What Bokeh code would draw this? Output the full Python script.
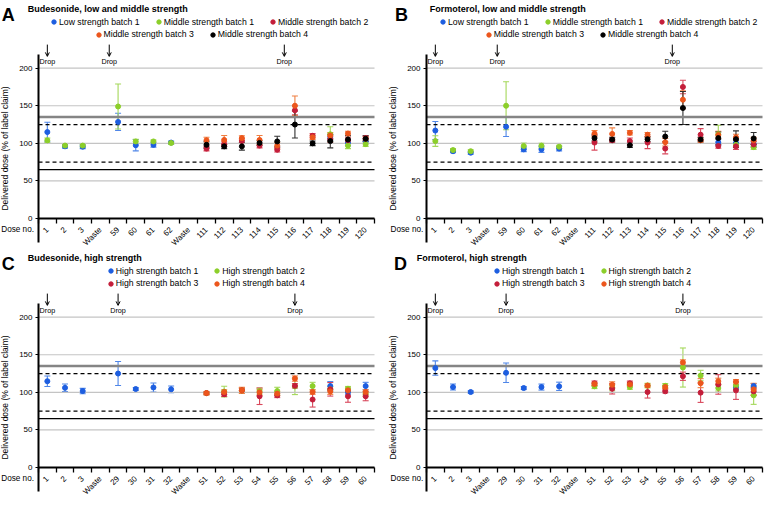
import math
from bokeh.plotting import figure
from bokeh.models import (ColumnDataSource, Whisker, TeeHead, Label, Arrow, OpenHead,
                          Legend, LegendItem, FixedTicker)
from bokeh.layouts import column, row
from bokeh.embed import file_html
from bokeh.resources import INLINE

N = None

# ---------------- categories ----------------
CATS_LM = ["1", "2", "3", "Waste", "59", "60", "61", "62", "Waste",
           "111", "112", "113", "114", "115", "116", "117", "118", "119", "120"]
CATS_H = ["1", "2", "3", "Waste", "29", "30", "31", "32", "Waste",
          "51", "52", "53", "54", "55", "56", "57", "58", "59", "60"]

# ---------------- Panel A: Budesonide, low and middle strength ----------------
A_LOW1 = [115, 96, 95.5, N, 128.5, 97.5, 98, 101, N, N, N, N, N, N, N, N, 107, 101, 103]
A_LOW1_E = [13, 2.5, 2.5, N, 11.5, 7.5, 3, 2, N, N, N, N, N, N, N, N, 4, 4, 3]
A_MID1 = [104, 97, 97, N, 149, 102.5, 102.5, 100.5, N, N, N, N, N, N, N, N, 112, 97, 99]
A_MID1_E = [3, 2, 2, N, 30, 3, 2, 2, N, N, N, N, N, N, N, N, 10, 4, 3]
A_MID2 = [N, N, N, N, N, N, N, N, N, 93, 99, 103, 97, 91.5, 144, 110, 105, 104, 107]
A_MID2_E = [N, N, N, N, N, N, N, N, N, 3, 3, 3, 3, 3, 6, 3, 4, 4, 3]
A_MID3 = [N, N, N, N, N, N, N, N, N, 104, 104.5, 107, 104.5, 97, 150, 108, 110.5, 113, 106]
A_MID3_E = [N, N, N, N, N, N, N, N, N, 4, 6, 3, 6, 4, 13, 3, 4, 3, 3]
A_MID4 = [N, N, N, N, N, N, N, N, N, 98, 96, 96, 100.5, 102.5, 125, 100, 103, 105, 106]
A_MID4_E = [N, N, N, N, N, N, N, N, N, 4, 3, 5, 3, 7, 18, 3, 9, 5, 4]

# ---------------- Panel B: Formoterol, low and middle strength ----------------
B_LOW1 = [117, 89.5, 87.5, N, 122, 92, 92, 93, N, N, N, N, N, N, N, N, 101.5, 100.5, 99]
B_LOW1_E = [12, 2, 2, N, 13, 3, 4, 3, N, N, N, N, N, N, N, N, 4, 4, 3]
B_MID1 = [103, 91, 89.5, N, 150, 96.5, 97, 95.5, N, N, N, N, N, N, N, N, 112, 98, 95]
B_MID1_E = [7, 2, 2, N, 32, 4, 3, 2, N, N, N, N, N, N, N, N, 12, 3, 3]
B_MID2 = [N, N, N, N, N, N, N, N, N, 101, 104, 103, 101, 93, 175, 111.5, 96.5, 96, 98.5]
B_MID2_E = [N, N, N, N, N, N, N, N, N, 10, 3, 4, 8, 7, 9, 8, 3, 4, 4]
B_MID3 = [N, N, N, N, N, N, N, N, N, 113, 112.5, 114, 111.5, 101.5, 158, 104, 111, 108, 104]
B_MID3_E = [N, N, N, N, N, N, N, N, N, 4, 8, 3, 3, 5, 12, 3, 5, 4, 4]
B_MID4 = [N, N, N, N, N, N, N, N, N, 107, 105, 97.5, 105.5, 109, 147, 105, 107, 105.5, 106.5]
B_MID4_E = [N, N, N, N, N, N, N, N, N, 4, 3, 3, 3, 7, 22, 3, 8, 11, 8]

# ---------------- Panel C: Budesonide, high strength ----------------
C_B1 = [114.8, 106, 101.7, N, 125, 104.4, 106.5, 104, N, N, N, N, N, N, N, N, 108.3, 100.4, 108.3]
C_B1_E = [7, 5, 3.5, N, 16, 2, 6, 4.5, N, N, N, N, N, N, N, N, 6, 3, 5]
C_B2 = [N, N, N, N, N, N, N, N, N, 99, 101, 102.5, 101.7, 101.7, 108, 108.3, 104, 104.8, 98]
C_B2_E = [N, N, N, N, N, N, N, N, N, 2, 7, 3, 4, 5, 11, 5, 4, 3, 3]
C_B3 = [N, N, N, N, N, N, N, N, N, 99, 97.4, 102.6, 94.8, 96, 108.7, 90.4, 104, 94.8, 94.8]
C_B3_E = [N, N, N, N, N, N, N, N, N, 2, 3, 3, 11, 3, 3, 10, 9, 8, 6]
C_B4 = [N, N, N, N, N, N, N, N, N, 99, 100.4, 102.6, 100, 98.3, 118.3, 100.4, 101.3, 102.6, 100.4]
C_B4_E = [N, N, N, N, N, N, N, N, N, 2, 3, 4, 4, 3, 3.5, 3, 4, 3, 3]

# ---------------- Panel D: Formoterol, high strength ----------------
D_B1 = [132.3, 107, 100.4, N, 126, 105.7, 107, 108, N, N, N, N, N, N, N, N, N, 107, 108.5]
D_B1_E = [9.5, 4, 1.5, N, 13, 2, 4, 5.5, N, N, N, N, N, N, N, N, N, 3, 3]
D_B2 = [N, N, N, N, N, N, N, N, N, 108, 106, 107, 109, 108.7, 133, 122.3, 105.7, 109, 96]
D_B2_E = [N, N, N, N, N, N, N, N, N, 3, 4, 3, 3, 3, 26, 7, 4, 4, 12]
D_B3 = [N, N, N, N, N, N, N, N, N, 112, 104.8, 112, 100.4, 101.3, 121.4, 99.6, 110.5, 102.6, 101.3]
D_B3_E = [N, N, N, N, N, N, N, N, N, 3, 7, 3, 8, 2, 5.5, 13, 13, 12, 5]
D_B4 = [N, N, N, N, N, N, N, N, N, 111, 110, 110.5, 109, 107, 139.7, 112.2, 114.8, 114, 104]
D_B4_E = [N, N, N, N, N, N, N, N, N, 2, 4, 3, 2, 2, 3.5, 6, 4, 3, 8]

NAMES_LM = ["Low strength batch 1", "Middle strength batch 1", "Middle strength batch 2",
            "Middle strength batch 3", "Middle strength batch 4"]
NAMES_H = ["High strength batch 1", "High strength batch 2",
           "High strength batch 3", "High strength batch 4"]

# reference limits (% of label claim) and grid values
LIM_OUTER_HI = 135
LIM_INNER_HI = 125
LIM_INNER_LO = 75
LIM_OUTER_LO = 65
GRID_Y = [50, 100, 150, 200]
Y_TICKS = [0, 50, 100, 150, 200]

# ---------------- styling / layout ----------------
FONT = "Liberation Sans"
BLUE, BLUE_L = "#1d5ee0", "#4f86e8"
GREEN, GREEN_L = "#8ccf2a", "#a4d85a"
RED, RED_L = "#c41e3a", "#d9485c"
ORANGE, ORANGE_L = "#ec561c", "#f07e40"
BLACK, BLACK_L = "#000000", "#303030"

W, H = 382, 249
FRAME_W = 336          # width covered by the categories
ZERO_Y = 218           # figure pixel row of value 0
Y_TOP = 290.0          # value at top figure edge
PX_PER_Y = ZERO_Y / Y_TOP


def ydata(fig_y):
    """figure pixel (from top) -> data y"""
    return (ZERO_Y - fig_y) / PX_PER_Y


def series_source(vals, errs):
    xs, ys, lo, hi = [], [], [], []
    for i, (v, e) in enumerate(zip(vals, errs)):
        if v is None:
            continue
        xs.append(i + 1)
        ys.append(v)
        lo.append(v - e)
        hi.append(v + e)
    return ColumnDataSource(dict(x=xs, y=ys, lower=lo, upper=hi))


def make_panel(letter, title, cats, series, names, legend_rows, drops,
               border_left, letter_px, title_px, legend_px, doseno_px):
    n = len(cats)
    px_per_x = FRAME_W / n
    x0 = 0.5 - border_left / px_per_x
    x1 = 0.5 + (W - border_left) / px_per_x
    p = figure(width=W, height=H, x_range=(x0, x1), y_range=(ydata(H), Y_TOP),
               output_backend="svg", toolbar_location=None,
               min_border_left=0, min_border_right=0, min_border_top=0, min_border_bottom=0)
    p.outline_line_color = None
    p.background_fill_color = None
    p.border_fill_color = "white"
    p.xgrid.visible = False
    p.ygrid.visible = False

    def xdata(rel_px):
        return 0.5 + rel_px / px_per_x

    xl, xr = 0.5, n + 0.5

    # grid lines
    p.segment(x0=[xl] * len(GRID_Y), y0=GRID_Y, x1=[xr] * len(GRID_Y), y1=GRID_Y,
              line_color="#c4c4c4", line_width=1.1)
    # reference limits
    p.segment(x0=[xl], y0=[LIM_OUTER_HI], x1=[xr], y1=[LIM_OUTER_HI], line_color="#858585", line_width=2.4)
    p.segment(x0=[xl, xl], y0=[LIM_INNER_HI, LIM_INNER_LO], x1=[xr, xr], y1=[LIM_INNER_HI, LIM_INNER_LO],
              line_color="black", line_width=1.3, line_dash="4 3")
    p.segment(x0=[xl], y0=[LIM_OUTER_LO], x1=[xr], y1=[LIM_OUTER_LO], line_color="black", line_width=1.4)

    # y axis (fixed at left boundary of first category)
    ya = p.yaxis[0]
    ya.fixed_location = 0.5
    ya.ticker = FixedTicker(ticks=Y_TICKS)
    ya.bounds = (ydata(241.5), ydata(53.9))
    ya.axis_line_width = 2
    ya.axis_line_color = "black"
    ya.major_tick_out = 3
    ya.major_tick_in = 0
    ya.minor_tick_out = 0
    ya.minor_tick_in = 0
    ya.major_tick_line_width = 1.2
    ya.major_label_text_font = FONT
    ya.major_label_text_font_size = "8px"
    ya.major_label_text_color = "black"
    ya.major_label_standoff = 3
    ya.axis_label = "Delivered dose (% of label claim)"
    ya.axis_label_text_font = FONT
    ya.axis_label_text_font_size = "8.5px"
    ya.axis_label_text_font_style = "normal"
    ya.axis_label_text_color = "black"
    ya.axis_label_standoff = 6

    # x axis (fixed at value 0)
    xa = p.xaxis[0]
    xa.fixed_location = 0
    xa.bounds = (xl, xr)
    xa.ticker = FixedTicker(ticks=list(range(1, n + 1)),
                            minor_ticks=[i + 0.5 for i in range(n + 1)])
    xa.major_label_overrides = {i + 1: c for i, c in enumerate(cats)}
    xa.major_label_orientation = math.pi / 4
    xa.major_tick_out = 0
    xa.major_tick_in = 0
    xa.minor_tick_out = 5
    xa.minor_tick_in = 0
    xa.minor_tick_line_width = 1.3
    xa.minor_tick_line_color = "black"
    xa.axis_line_width = 2
    xa.axis_line_color = "black"
    xa.major_label_text_font = FONT
    xa.major_label_text_font_size = "8px"
    xa.major_label_text_color = "black"
    xa.major_label_standoff = 5

    # data series
    renderers = []
    for (vals, errs, col, col_l) in series:
        src = series_source(vals, errs)
        p.add_layout(Whisker(source=src, base="x", upper="upper", lower="lower", dimension="height",
                             line_color=col_l, line_width=1.1,
                             upper_head=TeeHead(size=6, line_color=col_l, line_width=1.1),
                             lower_head=TeeHead(size=6, line_color=col_l, line_width=1.1)))
        r = p.scatter("x", "y", source=src, marker="circle", size=5,
                      fill_color=col, line_color=col)
        renderers.append(r)

    # legend rows
    for (idxs, (lx, row_y)) in zip(legend_rows, legend_px):
        items = [LegendItem(label=names[i], renderers=[renderers[i]]) for i in idxs]
        leg = Legend(items=items, location=(border_left + lx, H - row_y - 5.5),
                     orientation="horizontal",
                     background_fill_alpha=0, border_line_color=None, padding=0, margin=0,
                     spacing=13, glyph_width=11, glyph_height=11, label_standoff=0,
                     label_height=11, label_width=10,
                     label_text_font=FONT, label_text_font_size="8.7px", label_text_color="black")
        p.add_layout(leg)

    # drop arrows
    for xd in drops:
        p.add_layout(Arrow(end=OpenHead(size=4, line_width=1, line_color="black"),
                           x_start=xd, y_start=ydata(44.1), x_end=xd, y_end=ydata(55.9),
                           line_width=1, line_color="black"))
        p.add_layout(Label(x=xd, y=ydata(60.8), text="Drop", text_align="center",
                           text_baseline="middle", text_font=FONT, text_font_size="7.2px",
                           text_color="black"))

    # panel letter and title
    p.add_layout(Label(x=xdata(letter_px), y=ydata(14.7), text=letter, text_font=FONT,
                       text_font_size="18px", text_font_style="bold", text_color="black",
                       text_baseline="alphabetic", text_align="left"))
    p.add_layout(Label(x=xdata(title_px), y=ydata(8.0), text=title, text_font=FONT,
                       text_font_size="9px", text_font_style="bold", text_color="black",
                       text_baseline="alphabetic", text_align="left"))
    # dose no. label
    p.add_layout(Label(x=xdata(doseno_px), y=ydata(228.6), text="Dose no.", text_font=FONT,
                       text_font_size="8.2px", text_color="black", text_align="right",
                       text_baseline="middle"))
    return p


LEG_ROWS_Y = (21.6, 34.3)

pa = make_panel("A", "Budesonide, low and middle strength", CATS_LM,
                [(A_LOW1, A_LOW1_E, BLUE, BLUE_L), (A_MID1, A_MID1_E, GREEN, GREEN_L),
                 (A_MID2, A_MID2_E, RED, RED_L), (A_MID3, A_MID3_E, ORANGE, ORANGE_L),
                 (A_MID4, A_MID4_E, BLACK, BLACK_L)],
                NAMES_LM, [[0, 1, 2], [3, 4]], [1.0, 4.5, 14.4],
                38, -36.8, -10.8, [(10, LEG_ROWS_Y[0]), (54.5, LEG_ROWS_Y[1])], -4.5)

pb = make_panel("B", "Formoterol, low and middle strength", CATS_LM,
                [(B_LOW1, B_LOW1_E, BLUE, BLUE_L), (B_MID1, B_MID1_E, GREEN, GREEN_L),
                 (B_MID2, B_MID2_E, RED, RED_L), (B_MID3, B_MID3_E, ORANGE, ORANGE_L),
                 (B_MID4, B_MID4_E, BLACK, BLACK_L)],
                NAMES_LM, [[0, 1, 2], [3, 4]], [1.0, 4.5, 14.4],
                44, -31.6, 3.3, [(11, LEG_ROWS_Y[0]), (56.7, LEG_ROWS_Y[1])], -3.2)

pc = make_panel("C", "Budesonide, high strength", CATS_H,
                [(C_B1, C_B1_E, BLUE, BLUE_L), (C_B2, C_B2_E, GREEN, GREEN_L),
                 (C_B3, C_B3_E, RED, RED_L), (C_B4, C_B4_E, ORANGE, ORANGE_L)],
                NAMES_H, [[0, 1], [2, 3]], [1.0, 5.0, 15.0],
                38, -36.8, -10.8, [(66.7, LEG_ROWS_Y[0]), (66.7, LEG_ROWS_Y[1])], -4.5)

pd_ = make_panel("D", "Formoterol, high strength", CATS_H,
                 [(D_B1, D_B1_E, BLUE, BLUE_L), (D_B2, D_B2_E, GREEN, GREEN_L),
                  (D_B3, D_B3_E, RED, RED_L), (D_B4, D_B4_E, ORANGE, ORANGE_L)],
                 NAMES_H, [[0, 1], [2, 3]], [1.0, 5.0, 15.0],
                 44, -32.5, -9.7, [(65, LEG_ROWS_Y[0]), (65, LEG_ROWS_Y[1])], -3.2)

layout = column(row(pa, pb), row(pc, pd_))

with open("out.html", "w") as f:
    f.write(file_html(layout, INLINE))
